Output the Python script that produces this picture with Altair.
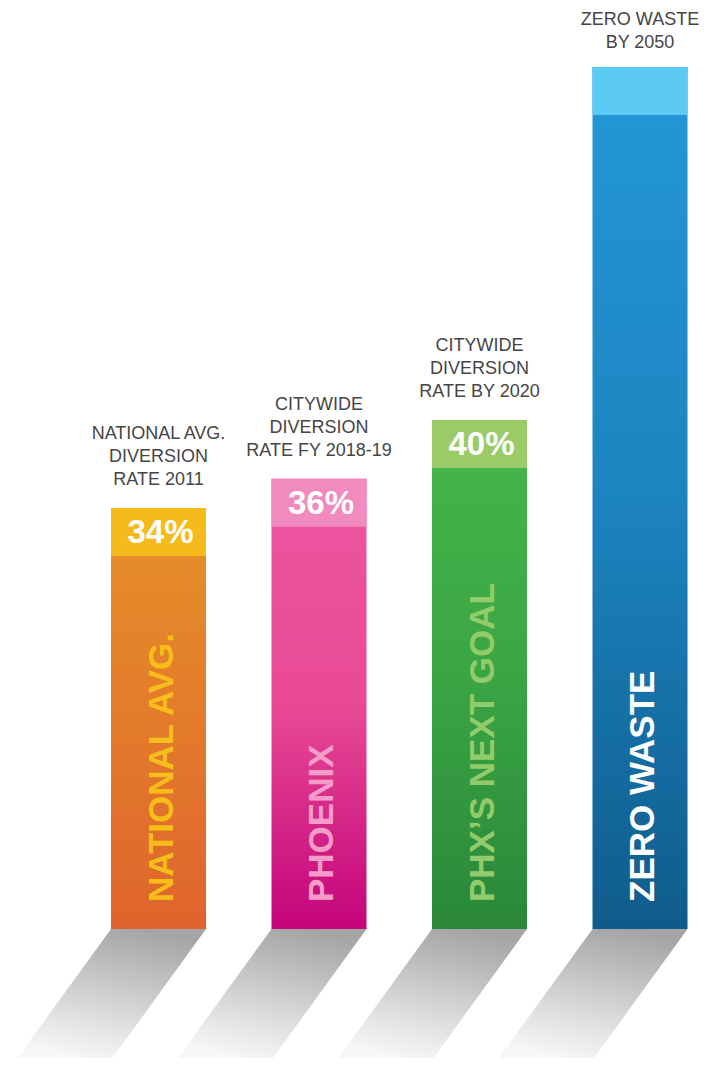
import altair as alt
import pandas as pd

# ---- data ----
BAR_NAMES = ["NATIONAL AVG.", "PHOENIX", "PHX\u2019S NEXT GOAL", "ZERO WASTE"]
VALUES = [34, 36, 40, 100]
CAP_LABELS = ["34%", "36%", "40%", ""]
TOP_LABELS = [
    "NATIONAL AVG.\nDIVERSION\nRATE 2011",
    "CITYWIDE\nDIVERSION\nRATE FY 2018-19",
    "CITYWIDE\nDIVERSION\nRATE BY 2020",
    "ZERO WASTE\nBY 2050",
]

# ---- styling ----
GRAD_TOP = ["#E6902A", "#EE55A0", "#46B64A", "#2398D6"]
GRAD_MID = ["#E37B2B", "#E84A96", "#3BA544", "#1C84C0"]
GRAD_BOT = ["#DF642D", "#C4047A", "#2A873A", "#0F5C8C"]
CAP_COLORS = ["#F7BA1C", "#F18BBF", "#9BCB67", "#5BCAF4"]
INNER_TEXT_COLORS = ["#F7BE1A", "#F59CC9", "#92CC6A", "#FFFFFF"]

BASE = 5.3          # baseline of the bars on the value scale
HALF_W = 0.296      # half bar width in category units
SHADOW_SHIFT = 0.59
SHADOW_DEPTH = 8.9

idx = list(range(len(BAR_NAMES)))
df = pd.DataFrame({
    "i": idx,
    "name": BAR_NAMES,
    "value": VALUES,
    "cap": CAP_LABELS,
    "top": TOP_LABELS,
})
df["base"] = BASE
df["xl"] = df["i"] - HALF_W
df["xr"] = df["i"] + HALF_W
df["nlines"] = df["top"].str.count("\n") + 1

shadow_rows = []
for i in idx:
    shadow_rows.append({"i": i, "yy": BASE, "sl": i - HALF_W, "sr": i + HALF_W})
    shadow_rows.append({"i": i, "yy": BASE - SHADOW_DEPTH,
                        "sl": i - HALF_W - SHADOW_SHIFT, "sr": i + HALF_W - SHADOW_SHIFT})
df_shadow = pd.DataFrame(shadow_rows)

xscale = alt.Scale(domain=[-0.9377, 3.3738], nice=False, zero=False)
yscale = alt.Scale(domain=[BASE, 40, 100], range=[921, 412, 59], nice=False, zero=False)

X = lambda f: alt.X(f, type="quantitative", scale=xscale, axis=None)
Y = lambda f: alt.Y(f, type="quantitative", scale=yscale, axis=None)

layers = []

# shadows
shadow = alt.Chart(df_shadow).mark_area(
    orient="horizontal",
    color=alt.Gradient(
        gradient="linear",
        x1=0.65, y1=0, x2=0.35, y2=1,
        stops=[
            alt.GradientStop(color="#a5a5a5", offset=0),
            alt.GradientStop(color="#c6c6c6", offset=0.4),
            alt.GradientStop(color="#e4e4e4", offset=0.75),
            alt.GradientStop(color="#f7f7f7", offset=1),
        ],
    ),
).encode(
    y=Y("yy"),
    x=X("sl"),
    x2=alt.X2("sr"),
    detail="i:N",
)
layers.append(shadow)

for i in idx:
    sub = alt.Chart(df).transform_filter(alt.datum.i == i)
    bar = sub.mark_rect(
        color=alt.Gradient(
            gradient="linear", x1=0, y1=0, x2=0, y2=1,
            stops=[
                alt.GradientStop(color=GRAD_TOP[i], offset=0),
                alt.GradientStop(color=GRAD_MID[i], offset=0.5),
                alt.GradientStop(color=GRAD_BOT[i], offset=1),
            ],
        )
    ).encode(x=X("xl"), x2=alt.X2("xr"), y=Y("value"), y2=alt.Y2("base"))
    cap = sub.mark_rect(color=CAP_COLORS[i], y2Offset=48).encode(
        x=X("xl"), x2=alt.X2("xr"), y=Y("value"), y2=alt.Y2("value")
    )
    inner = sub.mark_text(
        angle=270, align="left", baseline="middle", dx=27, dy=3,
        font="Liberation Sans", fontWeight="bold", fontSize=35,
        color=INNER_TEXT_COLORS[i],
    ).encode(x=X("i"), y=Y("base"), text="name:N")
    layers += [bar, cap, inner]

cap_text = alt.Chart(df).mark_text(
    baseline="middle", align="center", yOffset=25, dx=2,
    font="Liberation Sans", fontWeight="bold", fontSize=33, color="white",
).encode(x=X("i"), y=Y("value"), text="cap:N")
layers.append(cap_text)

for n, last_gap in ((2, -19), (3, -23)):
    top_text = alt.Chart(df).transform_filter(alt.datum.nlines == n).mark_text(
        baseline="alphabetic", align="center", dy=last_gap - 23 * (n - 1),
        lineBreak="\n", lineHeight=23,
        font="Liberation Sans", fontSize=18, color="#454545",
    ).encode(x=X("i"), y=Y("value"), text="top:N")
    layers.append(top_text)

chart = alt.layer(*layers).properties(
    width=692, height=1050,
    autosize=alt.AutoSizeParams(type="none"),
    padding=0,
    background="white",
).configure_view(stroke=None)

chart.save("out.html", embed_options={"renderer": "svg", "actions": False})
